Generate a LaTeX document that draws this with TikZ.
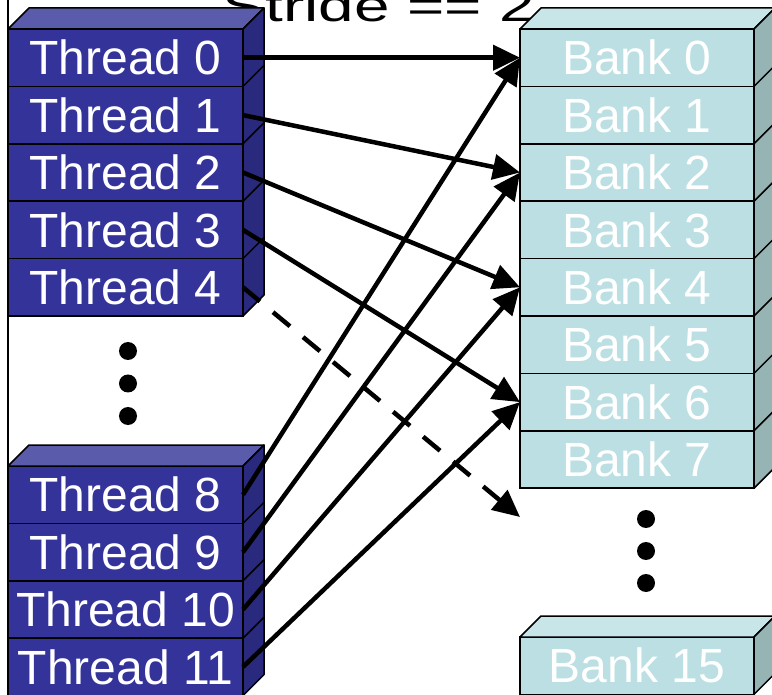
\documentclass[tikz,border=0pt]{standalone}
\usepackage{fontspec}
\setmainfont{Liberation Sans}
\usetikzlibrary{arrows.meta}
\definecolor{thrfront}{HTML}{333399}
\definecolor{thrtop}{HTML}{5B5BAB}
\definecolor{thrside}{HTML}{29297D}
\definecolor{bnkfront}{HTML}{BBDFE2}
\definecolor{bnktop}{HTML}{C8E6E8}
\definecolor{bnkside}{HTML}{97B4B5}
\begin{document}
\begin{tikzpicture}[x=1pt,y=-1pt,
  cell/.style={draw=black, line width=1.5pt, minimum width=235pt, minimum height=57.4pt,
    inner sep=0pt, outer sep=0pt, text=white, font=\fontsize{48}{52}\selectfont},
  threadcell/.style={cell, fill=thrfront},
  bankcell/.style={cell, fill=bnkfront, minimum width=234pt},
  face/.style={draw=black, line width=1.5pt, line join=round},
  conn/.style={line width=4.5pt, -{Triangle[length=27pt,width=25pt]}},
  dashconn/.style={conn, dash pattern=on 22pt off 17pt},
  dotmark/.style={circle, fill=black, minimum size=18pt, inner sep=0pt}
]
\useasboundingbox (0,0) rectangle (772,695);
\clip (0,0) rectangle (772,695);

% title
\node[anchor=base, inner sep=0pt] (title) at (379,22)
  {\scalebox{1.45}[1]{\fontsize{44}{48}\selectfont Stride == 2}};

% frame line
\draw[line width=1.5pt] (8,0) -- (8,695);

% thread block (upper)
\foreach \i/\y in {0/57.7,1/115.1,2/172.5,3/229.9,4/287.3}
  \node[threadcell] (t\i) at (125.5,\y) {Thread \i};
\draw[face, fill=thrtop] (t0.north west) -- ++(21,-21) -- ++(235,0) -- (t0.north east) -- cycle;
\draw[face, fill=thrside] (t0.north east) -- ++(21,-21) -- ([shift={(21,-21)}]t4.south east) -- (t4.south east) -- cycle;
\foreach \i in {0,1,2,3}
  \draw[face] (t\i.south east) -- ++(21,-21);

% thread block (lower)
\foreach \i/\y in {8/494.7,9/552.1,10/609.5,11/666.9}
  \node[threadcell] (t\i) at (125.5,\y) {Thread \i};
\draw[face, fill=thrtop] (t8.north west) -- ++(21,-21) -- ++(235,0) -- (t8.north east) -- cycle;
\draw[face, fill=thrside] (t8.north east) -- ++(21,-21) -- ([shift={(21,-21)}]t11.south east) -- (t11.south east) -- cycle;
\foreach \i in {8,9,10}
  \draw[face] (t\i.south east) -- ++(21,-21);

% bank block
\foreach \i in {0,...,7}
  \node[bankcell] (b\i) at (637,57.7+57.4*\i) {Bank \i};
\draw[face, fill=bnktop] (b0.north west) -- ++(21,-21) -- ++(234,0) -- (b0.north east) -- cycle;
\draw[face, fill=bnkside] (b0.north east) -- ++(21,-21) -- ([shift={(21,-21)}]b7.south east) -- (b7.south east) -- cycle;
\foreach \i in {0,...,6}
  \draw[face] (b\i.south east) -- ++(21,-21);

\node[bankcell] (b15) at (637,665.7) {Bank 15};
\draw[face, fill=bnktop] (b15.north west) -- ++(21,-21) -- ++(234,0) -- (b15.north east) -- cycle;
\draw[face, fill=bnkside] (b15.north east) -- ++(21,-21) -- ([shift={(21,-21)}]b15.south east) -- (b15.south east) -- cycle;

\coordinate (b8) at (520,517);

% connectors
\draw[conn] (t0.east) -- (b0.west);
\draw[conn] (t1.east) -- (b2.west);
\draw[conn] (t2.east) -- (b4.west);
\draw[conn] (t3.east) -- (b6.west);
\draw[dashconn] (t4.east) -- (b8);
\draw[conn] (t8.east) -- (b0.west);
\draw[conn] (t9.east) -- (b2.west);
\draw[conn] (t10.east) -- (b4.west);
\draw[conn] (t11.east) -- (b6.west);

% ellipses
\node[dotmark] (dl1) at (128,351) {};
\node[dotmark] (dl2) at (128,383.5) {};
\node[dotmark] (dl3) at (128,416) {};
\node[dotmark] (dr1) at (646,519) {};
\node[dotmark] (dr2) at (646,551) {};
\node[dotmark] (dr3) at (646,583) {};
\end{tikzpicture}
\end{document}
